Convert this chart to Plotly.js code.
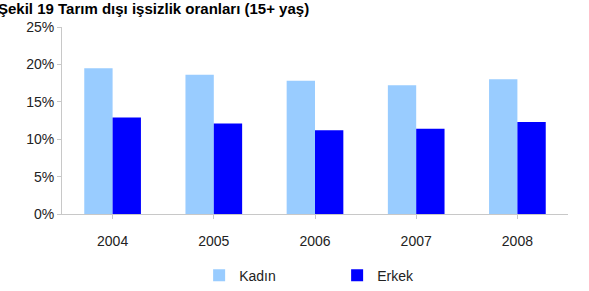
<!DOCTYPE html>
<html><head><meta charset="utf-8">
<script src="https://cdn.plot.ly/plotly-3.0.1.min.js"></script>
<style>html,body{margin:0;padding:0;background:#fff}#c{width:589px;height:291px}</style>
</head><body><div id="c"></div>
<script>
const years = ['2004','2005','2006','2007','2008'];
const kadin = [0.195, 0.186, 0.178, 0.172, 0.180];
const erkek = [0.129, 0.121, 0.112, 0.114, 0.123];
const seriesNames = ['Kadın','Erkek'];
const titleText = 'Şekil 19 Tarım dışı işsizlik oranları (15+ yaş)';

const data = [
  {type:'bar', x:years, y:kadin, name:seriesNames[0], marker:{color:'#99CCFF'}},
  {type:'bar', x:years, y:erkek, name:seriesNames[1], marker:{color:'#0000FF'}}
];
const layout = {
  width:589, height:291,
  margin:{l:62, r:21, t:27, b:77, autoexpand:false},
  paper_bgcolor:'#fff', plot_bgcolor:'#fff',
  font:{family:'Liberation Sans, Arial, sans-serif', size:14, color:'#222'},
  barmode:'group', bargap:0.44, bargroupgap:0,
  showlegend:true,
  legend:{orientation:'h', x:0.271, xanchor:'left', y:-0.33, yanchor:'middle',
          font:{size:14}, entrywidth:93, itemwidth:30},
  xaxis:{showline:true, linecolor:'#c8c8c8', linewidth:1, ticks:'outside', tickson:'boundaries',
         ticklen:4, tickcolor:'#c8c8c8', showgrid:false, zeroline:false, ticklabelstandoff:10},
  yaxis:{range:[0,0.25], dtick:0.05, tickformat:'.0%', showline:true, linecolor:'#c8c8c8',
         ticks:'outside', ticklen:4, tickcolor:'#c8c8c8', showgrid:false, zeroline:false},
  annotations:[{text:'<b>'+titleText+'</b>', xref:'paper', yref:'paper', x:0, y:1, xanchor:'left', yanchor:'bottom',
               xshift:-66, yshift:8, showarrow:false, font:{size:15, color:'#000'}}]
};
Plotly.newPlot('c', data, layout, {displayModeBar:false, staticPlot:true});
</script></body></html>
